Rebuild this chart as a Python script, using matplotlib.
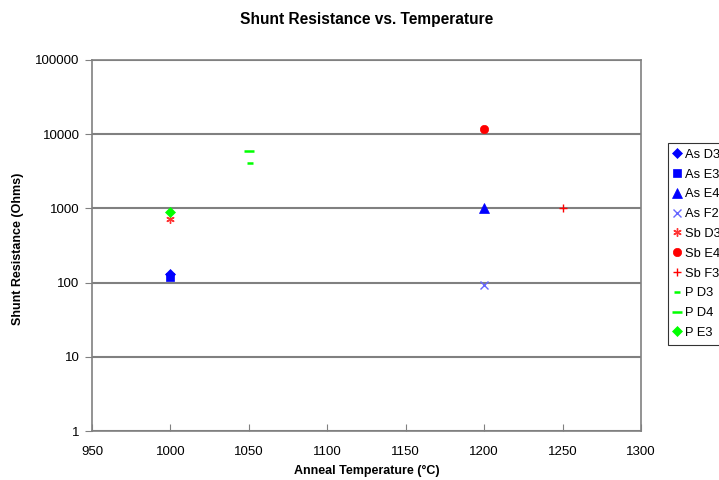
import matplotlib
matplotlib.use("Agg")
import matplotlib.pyplot as plt

plt.rcParams['font.family'] = ['Liberation Sans', 'DejaVu Sans']

series_names = ["As D3", "As E3", "As E4", "As F2", "Sb D3", "Sb E4", "Sb F3", "P D3", "P D4", "P E3"]
series_x = [1000, 1000, 1200, 1200, 1000, 1200, 1250, 1051, 1050, 1000]
series_y = [130, 118, 1000, 93, 710, 11800, 1000, 4100, 5900, 890]
colors = ["#0000FF", "#0000FF", "#0000FF", "#6666FF", "#FF3333", "#FF0000", "#FF0000", "#00FF00", "#00FF00", "#00FF00"]
markers = ["D", "s", "^", "x", (6, 2, 0), "o", "+", "_", "_", "D"]
sizes = [5, 5.5, 7, 6, 6, 6, 6, 4, 7, 5]

x_ticks = [950, 1000, 1050, 1100, 1150, 1200, 1250, 1300]
y_ticks = [1, 10, 100, 1000, 10000, 100000]

fig = plt.figure(figsize=(7.19, 4.8), dpi=100)
ax = fig.add_axes([92/719, 1 - 431/480, (641-92)/719, (431-60)/480])

for n, x, y, c, m, s in zip(series_names, series_x, series_y, colors, markers, sizes):
    ax.plot([x], [y], linestyle='none', marker=m, color=c, markersize=s,
            markeredgewidth=1.0 if m in ("x", "+", (6, 2, 0)) else (1.8 if m == "_" else 0.5),
            label=n, zorder=3)

ax.set_yscale('log')
ax.set_xlim(950, 1300)
ax.set_ylim(1, 100000)
ax.set_xticks(x_ticks)
ax.set_xticklabels([str(t) for t in x_ticks])
ax.set_yticks(y_ticks)
ax.set_yticklabels([str(t) for t in y_ticks])
ax.minorticks_off()
ax.yaxis.grid(True, color='#808080', linewidth=1.5, zorder=1)
ax.set_axisbelow(True)
for sp in ax.spines.values():
    sp.set_color('#808080')
    sp.set_linewidth(1.2)
ax.tick_params(axis='y', direction='out', length=5, color='#808080', labelsize=9.5, pad=4)
ax.tick_params(axis='x', direction='in', length=5, color='#808080', labelsize=9.5, pad=11)

ax.set_title("Shunt Resistance vs. Temperature", fontsize=11.2, fontweight='bold', pad=26)
ax.set_xlabel("Anneal Temperature (°C)", fontsize=9, fontweight='bold')
ax.set_ylabel("Shunt Resistance (Ohms)", fontsize=9, fontweight='bold')
ax.xaxis.set_label_coords((367 - 92) / (641 - 92), -(465 - 431) / (431 - 60))
ax.yaxis.set_label_coords(-(92 - 24) / (641 - 92), (431 - 249) / (431 - 60))

leg = fig.legend(loc='upper left', bbox_to_anchor=(668/719, 1 - 143/480), frameon=True,
                 fontsize=9.3, handlelength=0.5, handletextpad=0.4, borderpad=0.45,
                 labelspacing=0.6, fancybox=False, borderaxespad=0)
leg.get_frame().set_edgecolor('#000000')
leg.get_frame().set_linewidth(0.8)

fig.savefig("out.png", dpi=100)
